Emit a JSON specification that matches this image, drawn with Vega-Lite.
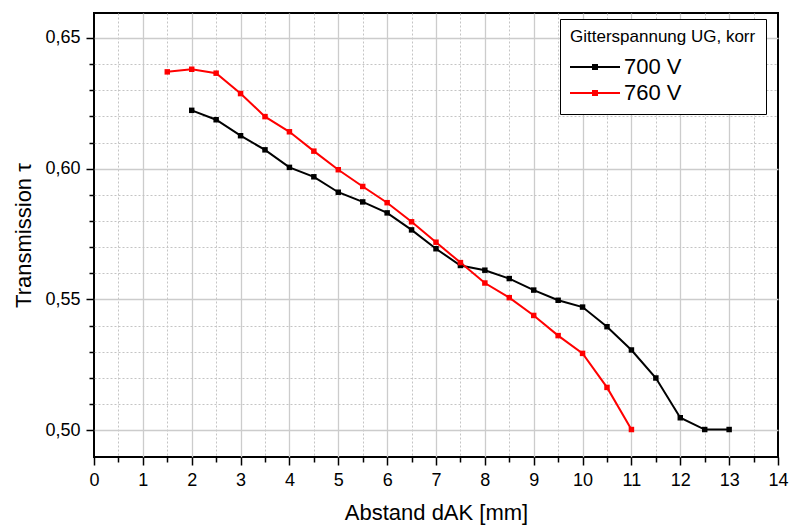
{
  "$schema": "https://vega.github.io/schema/vega-lite/v6.json",
  "width": 684,
  "height": 444,
  "autosize": {"type": "none"},
  "padding": {"left": 94, "top": 13, "right": 11, "bottom": 74},
  "background": "white",
  "config": {
    "font": "Liberation Sans",
    "view": {"stroke": "#000000", "strokeWidth": 2},
    "axis": {
      "labelFont": "Liberation Sans",
      "titleFont": "Liberation Sans",
      "labelColor": "#000000",
      "titleColor": "#000000",
      "titleFontWeight": "normal",
      "tickColor": "#000000",
      "tickWidth": 1.5,
      "domain": false,
      "labelFlush": false,
      "labelOverlap": false
    }
  },
  "data": {
    "values": [
      {"d": 2, "tau": 0.6223, "U": "700 V"},
      {"d": 2.5, "tau": 0.6187, "U": "700 V"},
      {"d": 3, "tau": 0.6126, "U": "700 V"},
      {"d": 3.5, "tau": 0.6072, "U": "700 V"},
      {"d": 4, "tau": 0.6005, "U": "700 V"},
      {"d": 4.5, "tau": 0.5969, "U": "700 V"},
      {"d": 5, "tau": 0.591, "U": "700 V"},
      {"d": 5.5, "tau": 0.5873, "U": "700 V"},
      {"d": 6, "tau": 0.5831, "U": "700 V"},
      {"d": 6.5, "tau": 0.5766, "U": "700 V"},
      {"d": 7, "tau": 0.5694, "U": "700 V"},
      {"d": 7.5, "tau": 0.563, "U": "700 V"},
      {"d": 8, "tau": 0.5612, "U": "700 V"},
      {"d": 8.5, "tau": 0.558, "U": "700 V"},
      {"d": 9, "tau": 0.5536, "U": "700 V"},
      {"d": 9.5, "tau": 0.5497, "U": "700 V"},
      {"d": 10, "tau": 0.5471, "U": "700 V"},
      {"d": 10.5, "tau": 0.5396, "U": "700 V"},
      {"d": 11, "tau": 0.5307, "U": "700 V"},
      {"d": 11.5, "tau": 0.52, "U": "700 V"},
      {"d": 12, "tau": 0.5048, "U": "700 V"},
      {"d": 12.5, "tau": 0.5003, "U": "700 V"},
      {"d": 13, "tau": 0.5003, "U": "700 V"},
      {"d": 1.5, "tau": 0.637, "U": "760 V"},
      {"d": 2, "tau": 0.638, "U": "760 V"},
      {"d": 2.5, "tau": 0.6365, "U": "760 V"},
      {"d": 3, "tau": 0.6287, "U": "760 V"},
      {"d": 3.5, "tau": 0.6199, "U": "760 V"},
      {"d": 4, "tau": 0.6141, "U": "760 V"},
      {"d": 4.5, "tau": 0.6067, "U": "760 V"},
      {"d": 5, "tau": 0.5996, "U": "760 V"},
      {"d": 5.5, "tau": 0.5932, "U": "760 V"},
      {"d": 6, "tau": 0.587, "U": "760 V"},
      {"d": 6.5, "tau": 0.5797, "U": "760 V"},
      {"d": 7, "tau": 0.5719, "U": "760 V"},
      {"d": 7.5, "tau": 0.5641, "U": "760 V"},
      {"d": 8, "tau": 0.5563, "U": "760 V"},
      {"d": 8.5, "tau": 0.5507, "U": "760 V"},
      {"d": 9, "tau": 0.5439, "U": "760 V"},
      {"d": 9.5, "tau": 0.5362, "U": "760 V"},
      {"d": 10, "tau": 0.5294, "U": "760 V"},
      {"d": 10.5, "tau": 0.5164, "U": "760 V"},
      {"d": 11, "tau": 0.5003, "U": "760 V"}
    ]
  },
  "layer": [
    {
      "mark": {"type": "point", "opacity": 0},
      "encoding": {
        "x": {
          "field": "d",
          "type": "quantitative",
          "scale": {"domain": [0, 14], "nice": false, "zero": false},
          "axis": {
            "orient": "bottom",
            "values": [0.5, 1.5, 2.5, 3.5, 4.5, 5.5, 6.5, 7.5, 8.5, 9.5, 10.5, 11.5, 12.5, 13.5],
            "labels": false,
            "title": null,
            "tickSize": 5,
            "grid": true,
            "gridColor": "#c4c4c4",
            "gridDash": [2, 2],
            "gridWidth": 1
          }
        },
        "y": {
          "field": "tau",
          "type": "quantitative",
          "scale": {"domain": [0.4898, 0.6595], "nice": false, "zero": false},
          "axis": {
            "orient": "left",
            "values": [0.51, 0.52, 0.53, 0.54, 0.56, 0.57, 0.58, 0.59, 0.61, 0.62, 0.63, 0.64],
            "labels": false,
            "title": null,
            "tickSize": 5,
            "grid": true,
            "gridColor": "#c4c4c4",
            "gridDash": [2, 2],
            "gridWidth": 1
          }
        }
      }
    },
    {
      "mark": {"type": "line", "strokeWidth": 2, "point": {"shape": "square", "size": 30, "filled": true}},
      "encoding": {
        "x": {
          "field": "d",
          "type": "quantitative",
          "scale": {"domain": [0, 14], "nice": false, "zero": false},
          "axis": {
            "orient": "bottom",
            "values": [0, 1, 2, 3, 4, 5, 6, 7, 8, 9, 10, 11, 12, 13, 14],
            "title": "Abstand dAK [mm]",
            "titleFontSize": 22,
            "titlePadding": 13,
            "labelFontSize": 18,
            "labelPadding": 6,
            "tickSize": 8,
            "grid": true,
            "gridColor": {"condition": {"test": "datum.value === 0 || datum.value === 14", "value": "transparent"}, "value": "#cccccc"},
            "gridWidth": 1.3
          }
        },
        "y": {
          "field": "tau",
          "type": "quantitative",
          "scale": {"domain": [0.4898, 0.6595], "nice": false, "zero": false},
          "axis": {
            "orient": "left",
            "values": [0.5, 0.55, 0.6, 0.65],
            "labelExpr": "replace(format(datum.value, '.2f'), '.', ',')",
            "title": "Transmission τ",
            "titleFontSize": 22,
            "titlePadding": 9,
            "labelFontSize": 18,
            "labelPadding": 6,
            "tickSize": 8,
            "grid": true,
            "gridColor": "#cccccc",
            "gridWidth": 1.3
          }
        },
        "color": {
          "field": "U",
          "type": "nominal",
          "scale": {"domain": ["700 V", "760 V"], "range": ["#000000", "#ff0000"]},
          "legend": {
            "orient": "none",
            "legendX": 466,
            "legendY": 6,
            "title": "Gitterspannung UG, korr",
            "titleFont": "Liberation Sans",
            "titleFontSize": 17,
            "titleFontWeight": "normal",
            "titleColor": "#000000",
            "titleLimit": 400,
            "titlePadding": 10,
            "labelFont": "Liberation Sans",
            "labelFontSize": 22,
            "labelColor": "#000000",
            "labelLimit": 300,
            "labelOffset": 32,
            "rowPadding": 4,
            "padding": 10,
            "strokeColor": "#000000",
            "fillColor": "#ffffff",
            "cornerRadius": 0,
            "symbolType": "M-2.2,0H7.8M2.4,-0.4H3.2V0.4H2.4Z",
            "symbolSize": 100,
            "symbolStrokeWidth": 2,
            "encode": {
              "symbols": {
                "update": {
                  "fill": {"scale": "color", "field": "value"},
                  "stroke": {"scale": "color", "field": "value"},
                  "strokeWidth": {"value": 2},
                  "opacity": {"value": 1}
                }
              }
            }
          }
        }
      }
    }
  ],
  "resolve": {"axis": {"x": "independent", "y": "independent"}}
}
